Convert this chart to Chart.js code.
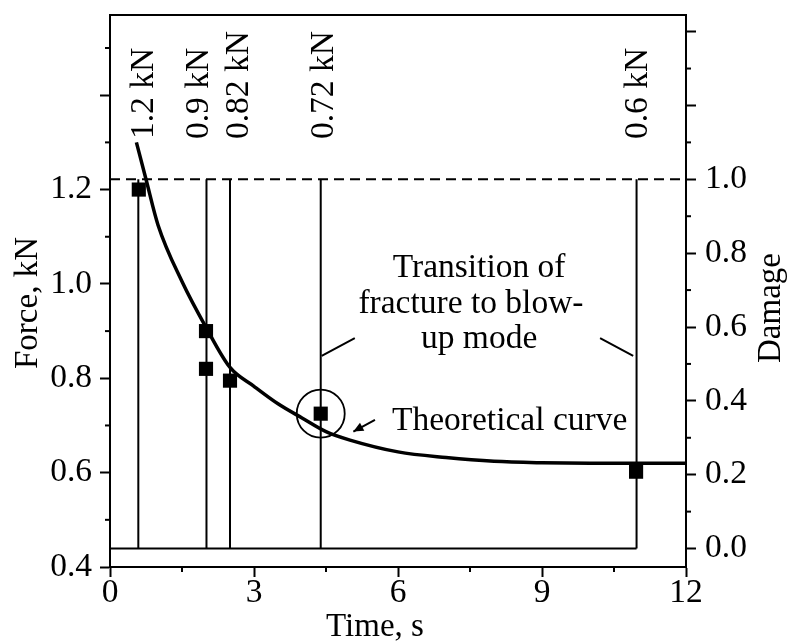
<!DOCTYPE html>
<html>
<head>
<meta charset="utf-8">
<script src="https://cdn.jsdelivr.net/npm/chart.js@4.4.1/dist/chart.umd.min.js"></script>
<style>
  html, body { margin: 0; padding: 0; background: #fff; }
</style>
</head>
<body>
<canvas id="chart" width="788" height="641"></canvas>
<script>
// specimens: time to failure (s) and load (kN)
const failTime = [0.6, 2.0, 2.0, 2.5, 4.39, 10.96];
const failForce = [1.2, 0.9, 0.82, 0.795, 0.725, 0.602];
const circledIndex = 4;

// theoretical curve
const curveTime = [0.55, 0.75, 1.0, 1.5, 2.0, 2.5, 3.0, 3.5, 4.0, 4.5, 5.0, 6.0, 7.0, 8.0, 9.0, 10.0, 11.0, 12.0];
const curveForce = [1.30, 1.222, 1.125, 1.005, 0.908, 0.823, 0.783, 0.746, 0.716, 0.687, 0.669, 0.644, 0.632, 0.624, 0.621, 0.620, 0.620, 0.620];

// damage jumps from 0 to 1 at fracture
const damageTimes = [0.59, 2.01, 2.5, 4.39, 10.97];
const damageBefore = 0;
const damageAfter = 1;
const loadLabels = ['1.2 kN', '0.9 kN', '0.82 kN', '0.72 kN', '0.6 kN'];

const timeTicks = [0, 3, 6, 9, 12];
const timeMinor = [1.5, 4.5, 7.5, 10.5];
const forceTicks = [0.4, 0.6, 0.8, 1.0, 1.2, 1.4];
const forceLabels = ['0.4', '0.6', '0.8', '1.0', '1.2', ''];
const forceMinor = [0.5, 0.7, 0.9, 1.1, 1.3, 1.5];
const damageTicks = [0, 0.2, 0.4, 0.6, 0.8, 1.0, 1.2, 1.4];
const damageLabels = ['0.0', '0.2', '0.4', '0.6', '0.8', '1.0', '', ''];
const damageMinor = [0.1, 0.3, 0.5, 0.7, 0.9, 1.1, 1.3];

const FONT = '"Liberation Serif", "Times New Roman", serif';
const tickFont = { family: FONT, size: 33.5, lineHeight: 1 };

// build step lines for damage
const lastT = damageTimes[damageTimes.length - 1];
const damageSteps = [{ x: 0, y: damageBefore }, { x: lastT, y: damageBefore }];
damageTimes.forEach(t => {
    damageSteps.push({ x: t, y: null }, { x: t, y: damageBefore }, { x: t, y: damageAfter });
});

// annotation placement (data units)
const notes = {
    labelX: [0.90, 2.05, 2.88, 4.65, 11.18],
    labelF: 1.307,
    leaders: [[4.41, 0.8475, 5.10, 0.885], [10.21, 0.885, 10.90, 0.8475]],
    arrow: [5.52, 0.712, 5.07, 0.687],
    lines: [['Transition of', 7.69, 1.014], ['fracture to blow-', 7.52, 0.939], ['up mode', 7.69, 0.864]],
    curveText: ['Theoretical curve', 5.875, 0.690]
};

const leaderData = [];
notes.leaders.forEach(l => {
    leaderData.push({ x: l[0], y: l[1] }, { x: l[2], y: l[3] }, { x: l[2], y: null });
});
leaderData.push({ x: notes.arrow[0], y: notes.arrow[1] }, { x: notes.arrow[2], y: notes.arrow[3] });

function drawMinor(ctx, scale, values, side) {
    values.forEach(v => {
        const p = scale.getPixelForValue(v);
        ctx.beginPath();
        if (side === 'bottom') { ctx.moveTo(p, scale.top); ctx.lineTo(p, scale.top + 5); }
        else if (side === 'left') { ctx.moveTo(scale.right, p); ctx.lineTo(scale.right - 5, p); }
        else { ctx.moveTo(scale.left, p); ctx.lineTo(scale.left + 5, p); }
        ctx.stroke();
    });
}

function fixSize(prop, size) {
    return s => {
        s[prop] = size;
        s.paddingTop = 0; s.paddingBottom = 0; s.paddingLeft = 0; s.paddingRight = 0;
    };
}

const annotatePlugin = {
    id: 'annotate',
    afterDraw(chart) {
        const ctx = chart.ctx;
        const xs = chart.scales.x, ys = chart.scales.y, y2 = chart.scales.y2;
        ctx.save();
        ctx.strokeStyle = '#000';
        ctx.fillStyle = '#000';
        ctx.lineWidth = 2;
        drawMinor(ctx, xs, timeMinor, 'bottom');
        drawMinor(ctx, ys, forceMinor, 'left');
        drawMinor(ctx, y2, damageMinor, 'right');

        // arrow head
        const a = notes.arrow;
        const x1 = xs.getPixelForValue(a[0]), yy1 = ys.getPixelForValue(a[1]);
        const x2 = xs.getPixelForValue(a[2]), yy2 = ys.getPixelForValue(a[3]);
        const ang = Math.atan2(yy2 - yy1, x2 - x1);
        ctx.beginPath();
        ctx.moveTo(x2, yy2);
        ctx.lineTo(x2 - 10 * Math.cos(ang) + 4.5 * Math.sin(ang), yy2 - 10 * Math.sin(ang) - 4.5 * Math.cos(ang));
        ctx.lineTo(x2 - 10 * Math.cos(ang) - 4.5 * Math.sin(ang), yy2 - 10 * Math.sin(ang) + 4.5 * Math.cos(ang));
        ctx.closePath();
        ctx.fill();

        ctx.font = '33.5px ' + FONT;
        ctx.textBaseline = 'alphabetic';

        // load labels, rotated
        loadLabels.forEach((txt, i) => {
            ctx.save();
            ctx.translate(xs.getPixelForValue(notes.labelX[i]), ys.getPixelForValue(notes.labelF));
            ctx.rotate(-Math.PI / 2);
            ctx.textAlign = 'left';
            ctx.fillText(txt, 0, 0);
            ctx.restore();
        });

        ctx.textAlign = 'center';
        notes.lines.forEach(l => {
            ctx.fillText(l[0], xs.getPixelForValue(l[1]), ys.getPixelForValue(l[2]));
        });
        ctx.textAlign = 'left';
        const ct = notes.curveText;
        ctx.fillText(ct[0], xs.getPixelForValue(ct[1]), ys.getPixelForValue(ct[2]));

        // axis titles
        ctx.font = '33px ' + FONT;
        ctx.textAlign = 'center';
        ctx.fillText('Time, s', 375, 636);
        ctx.save();
        ctx.translate(37, 303);
        ctx.rotate(-Math.PI / 2);
        ctx.fillText('Force, kN', 0, 0);
        ctx.restore();
        ctx.save();
        ctx.translate(780, 308);
        ctx.rotate(-Math.PI / 2);
        ctx.fillText('Damage', 0, 0);
        ctx.restore();
        ctx.restore();
    }
};

const ctx = document.getElementById('chart').getContext('2d');
new Chart(ctx, {
    type: 'line',
    data: {
        datasets: [
            {
                label: 'Experiment', type: 'scatter', yAxisID: 'y',
                data: failTime.map((t, i) => ({ x: t, y: failForce[i] })),
                pointStyle: 'rect', pointRadius: 10, borderWidth: 0,
                backgroundColor: '#000', showLine: false
            },
            {
                label: 'Circled', type: 'scatter', yAxisID: 'y',
                data: [{ x: failTime[circledIndex], y: failForce[circledIndex] }],
                pointStyle: 'circle', pointRadius: 24, borderWidth: 1.8,
                borderColor: '#000', backgroundColor: 'rgba(0,0,0,0)', showLine: false
            },
            {
                label: 'Theoretical curve', yAxisID: 'y',
                data: curveTime.map((t, i) => ({ x: t, y: curveForce[i] })),
                borderColor: '#000', borderWidth: 3.5, pointRadius: 0,
                cubicInterpolationMode: 'monotone', fill: false
            },
            {
                label: 'Damage', yAxisID: 'y2',
                data: damageSteps,
                borderColor: '#000', borderWidth: 2, pointRadius: 0, tension: 0, spanGaps: false
            },
            {
                label: 'Critical damage', yAxisID: 'y2',
                data: [{ x: 0, y: damageAfter }, { x: 12, y: damageAfter }],
                borderColor: '#000', borderWidth: 2, borderDash: [10, 6], pointRadius: 0
            },
            {
                label: 'Leaders', yAxisID: 'y',
                data: leaderData,
                borderColor: '#000', borderWidth: 2, pointRadius: 0, spanGaps: false
            }
        ]
    },
    options: {
        responsive: false,
        animation: false,
        layout: { padding: 0, autoPadding: false },
        plugins: { legend: { display: false }, tooltip: { enabled: false } },
        scales: {
            x: {
                type: 'linear', position: 'bottom', min: 0, max: 12,
                afterBuildTicks: s => { s.ticks = timeTicks.map(v => ({ value: v })); },
                afterFit: fixSize('height', 74),
                grid: { drawOnChartArea: false, tickLength: 10, tickWidth: 2, tickColor: '#000' },
                border: { color: '#000', width: 2 },
                ticks: { font: tickFont, color: '#000', padding: -1, maxRotation: 0, autoSkip: false, callback: v => String(v) }
            },
            x2: {
                type: 'linear', position: 'top', min: 0, max: 12,
                afterFit: fixSize('height', 15),
                grid: { drawOnChartArea: false, drawTicks: false },
                border: { color: '#000', width: 2 },
                ticks: { display: false }
            },
            y: {
                type: 'linear', position: 'left', min: 0.4, max: 1.57,
                afterBuildTicks: s => { s.ticks = forceTicks.map(v => ({ value: v })); },
                afterFit: fixSize('width', 110),
                grid: { drawOnChartArea: false, tickLength: 10, tickWidth: 2, tickColor: '#000' },
                border: { color: '#000', width: 2 },
                ticks: { font: tickFont, color: '#000', padding: 8, autoSkip: false, callback: (v, i) => forceLabels[i] }
            },
            y2: {
                type: 'linear', position: 'right', min: -0.05, max: 1.445,
                afterBuildTicks: s => { s.ticks = damageTicks.map(v => ({ value: v })); },
                afterFit: fixSize('width', 102),
                grid: { drawOnChartArea: false, tickLength: 10, tickWidth: 2, tickColor: '#000' },
                border: { color: '#000', width: 2 },
                ticks: { font: tickFont, color: '#000', padding: 9, autoSkip: false, callback: (v, i) => damageLabels[i] }
            }
        }
    },
    plugins: [annotatePlugin]
});
</script>
</body>
</html>
